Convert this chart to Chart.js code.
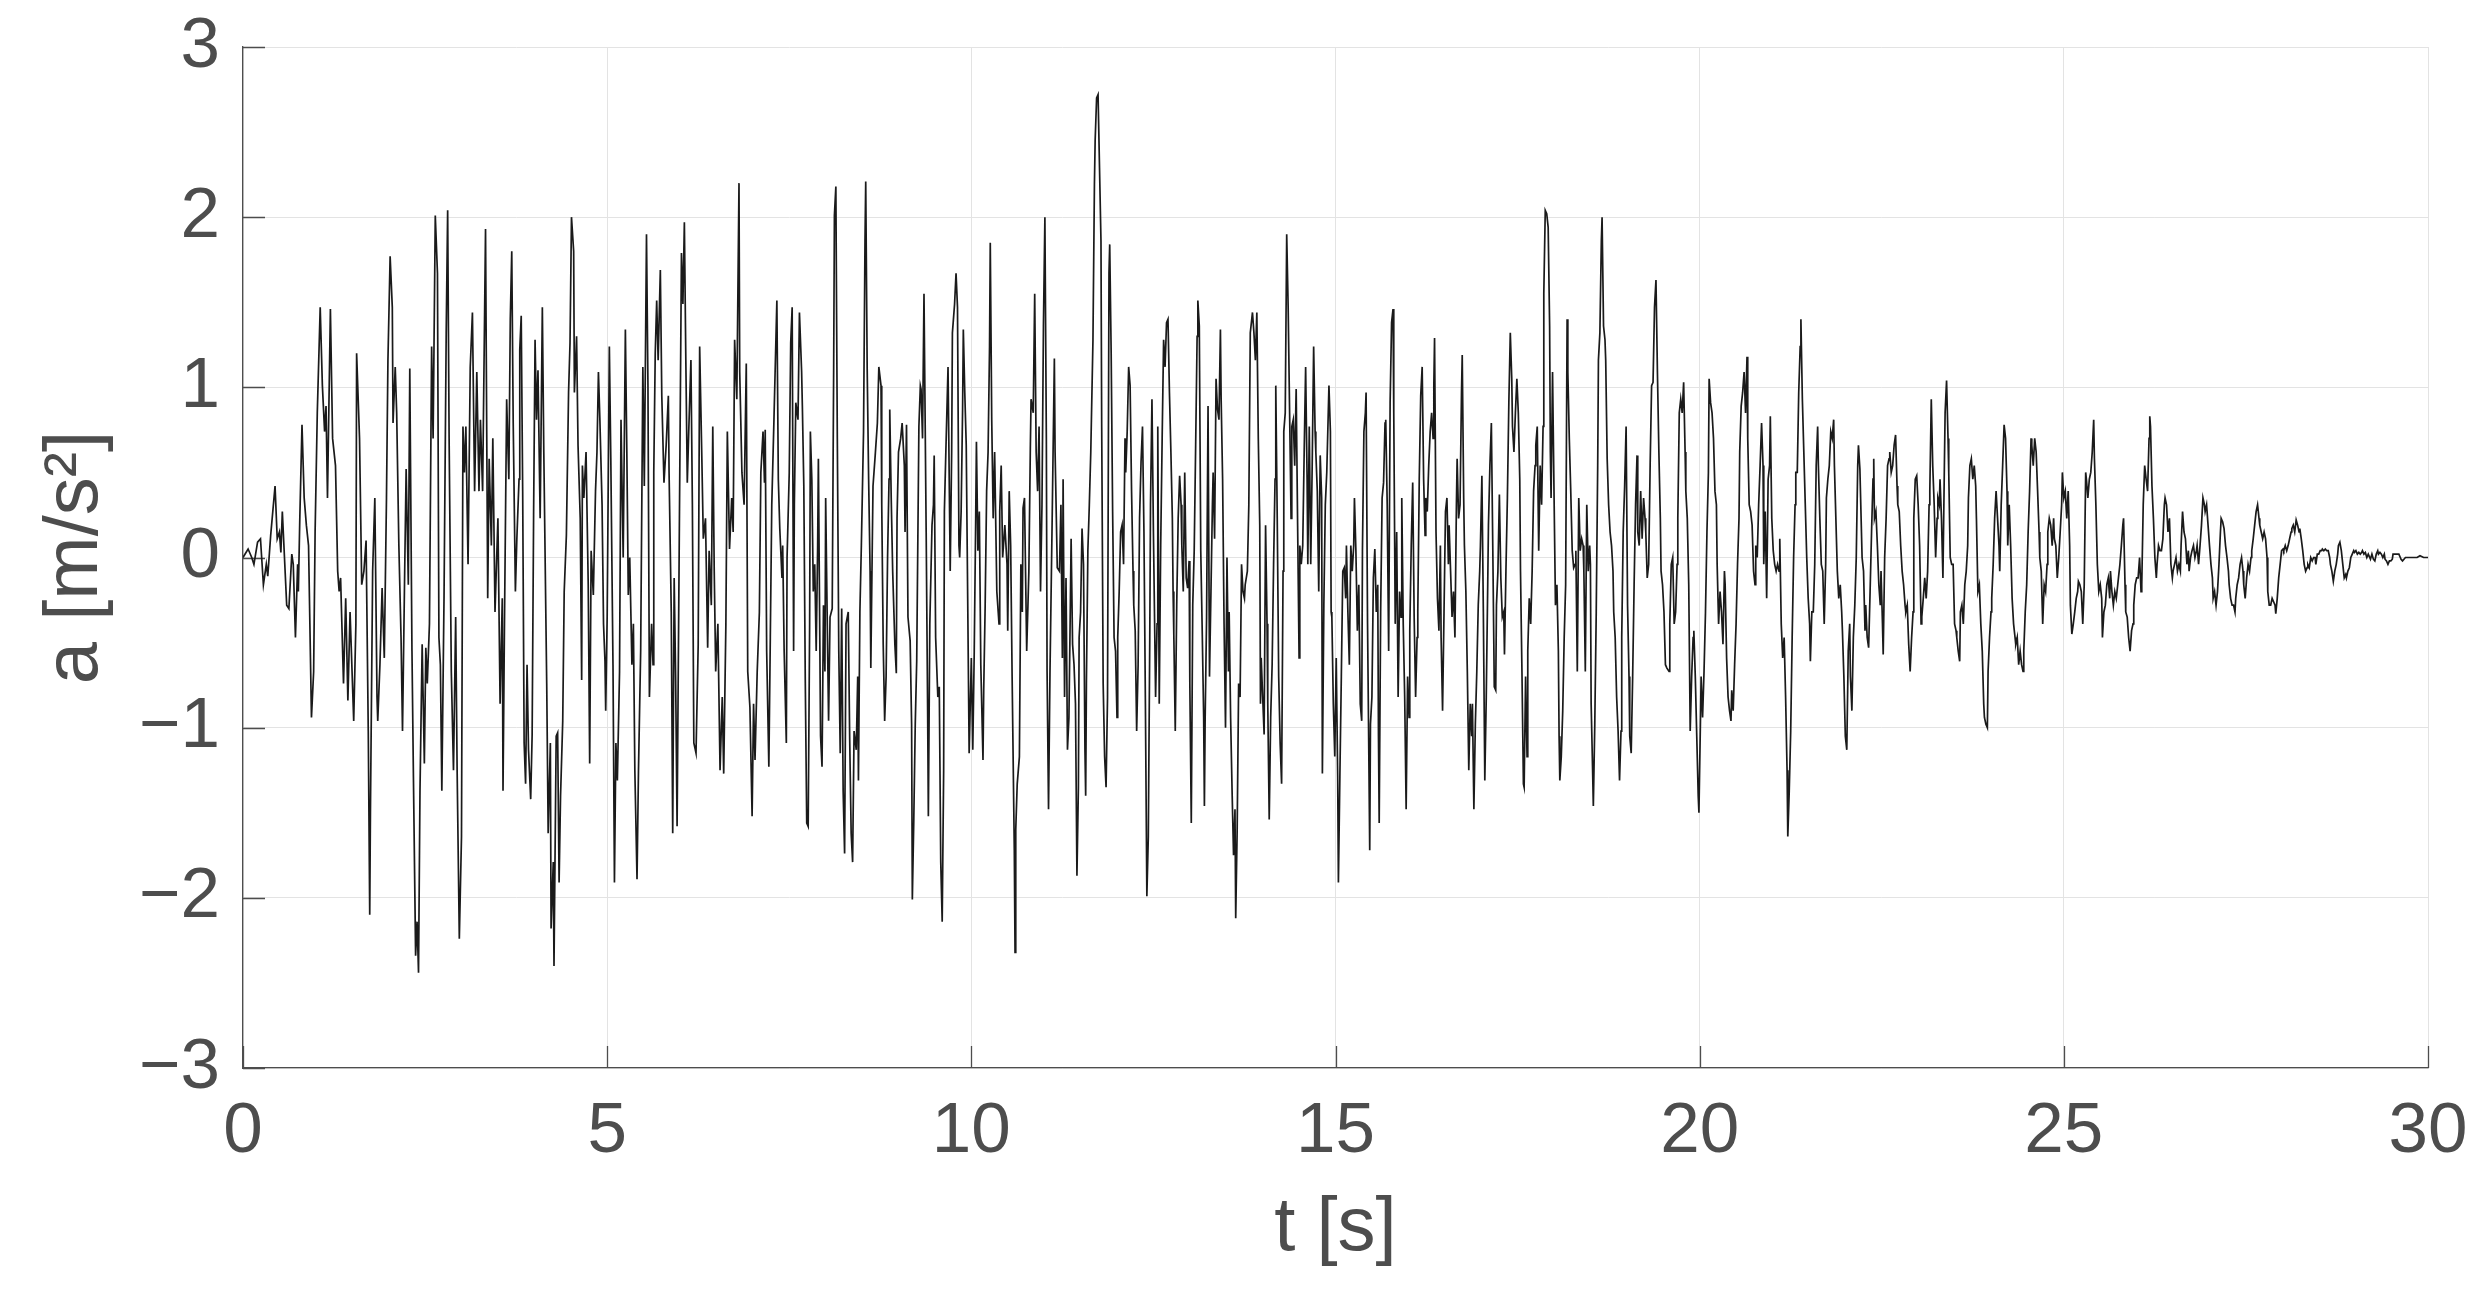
<!DOCTYPE html>
<html>
<head>
<meta charset="utf-8">
<script src="https://cdn.jsdelivr.net/npm/chart.js@4.4.1/dist/chart.umd.min.js"></script>
<style>
  html, body { margin: 0; padding: 0; background: #fff; }
  #wrap { width: 2488px; height: 1294px; position: relative; }
</style>
</head>
<body>
<div id="wrap"><canvas id="accChart"></canvas></div>
<script>
// tick values on both axes
const xTicks = [0, 5, 10, 15, 20, 25, 30];
const yTicks = [-3, -2, -1, 0, 1, 2, 3];

// accelerogram, [t (s), a (m/s2)], one array per stretch of time
const acc0to4 = [
  [0,0],[0.07,0.05],[0.12,0],[0.15,-0.04],[0.20,0.09],[0.24,0.11],[0.28,-0.16],[0.32,-0.04],[0.34,-0.11],[0.38,0.13],
  [0.44,0.42],[0.47,0.11],[0.50,0.15],[0.52,0.03],[0.54,0.27],[0.60,-0.28],[0.63,-0.30],[0.67,0.02],[0.69,-0.04],[0.72,-0.47],
  [0.75,-0.04],[0.76,-0.20],[0.78,0.23],[0.81,0.78],[0.84,0.35],[0.87,0.19],[0.90,0.07],[0.94,-0.94],[0.97,-0.67],[0.99,0.15],
  [1.02,0.85],[1.06,1.47],[1.09,1.01],[1.12,0.74],[1.14,0.89],[1.16,0.35],[1.20,1.46],[1.23,0.70],[1.27,0.54],[1.30,-0.08],
  [1.32,-0.20],[1.34,-0.12],[1.38,-0.74],[1.41,-0.24],[1.44,-0.84],[1.47,-0.32],[1.52,-0.96],[1.55,-0.39],[1.56,1.20],[1.60,0.70],
  [1.63,-0.16],[1.66,-0.08],[1.69,0.10],[1.72,-1.02],[1.74,-2.10],[1.75,-1.48],[1.78,-0.08],[1.81,0.35],[1.84,-0.82],[1.85,-0.96],
  [1.88,-0.63],[1.91,-0.18],[1.94,-0.59],[1.97,0.35],[1.99,1.16],[2.02,1.77],[2.05,1.47],[2.06,0.79],[2.09,1.12],[2.11,0.85],
  [2.14,0.07],[2.17,-0.47],[2.19,-1.02],[2.22,-0.08],[2.24,0.52],[2.27,-0.16],[2.29,1.11],[2.32,-0.55],[2.34,-1.29],[2.37,-2.34],
  [2.39,-2.14],[2.41,-2.44],[2.43,-1.37],[2.46,-0.51],[2.49,-1.21],[2.51,-0.53],[2.53,-0.74],[2.56,-0.39],[2.59,1.24],[2.61,0.70],
  [2.64,2.01],[2.67,1.67],[2.69,-0.47],[2.71,-0.63],[2.73,-1.37],[2.76,-0.24],[2.79,1.32],[2.81,2.04],[2.83,0.70],[2.86,-0.67],
  [2.89,-1.25],[2.92,-0.35],[2.94,-1.25],[2.97,-2.24],[3.00,-1.64],[3.02,0.77],[3.04,0.50],[3.06,0.77],[3.09,-0.04],[3.12,1.12],
  [3.15,1.44],[3.18,0.39],[3.21,1.09],[3.24,0.39],[3.26,0.81],[3.29,0.39],[3.33,1.93],[3.36,-0.24],[3.38,0.58],[3.41,0.07],
  [3.43,0.70],[3.46,-0.32],[3.50,0.23],[3.53,-0.86],[3.56,-0.24],[3.57,-1.37],[3.59,-0.39],[3.62,0.93],[3.65,0.46]
];
const acc4to7 = [
  [3.67,1.40],[3.69,1.80],[3.71,0.79],[3.74,-0.20],[3.76,0.11],[3.79,0.46],[3.80,1.22],[3.82,1.42],[3.84,0.39],[3.86,-1.09],
  [3.88,-1.33],[3.90,-0.63],[3.92,-1.13],[3.95,-1.42],[3.97,-1.04],[3.99,0.25],[4.01,1.28],[4.03,0.81],[4.05,1.10],[4.08,0.23],
  [4.11,1.47],[4.13,0.62],[4.17,-0.74],[4.19,-1.62],[4.22,-1.09],[4.23,-2.18],[4.26,-1.79],[4.27,-2.40],[4.30,-1.05],[4.32,-1.03],
  [4.34,-1.91],[4.36,-1.40],[4.39,-0.96],[4.41,-0.20],[4.44,0.13],[4.47,0.97],[4.49,1.26],[4.51,2.00],[4.54,1.80],[4.55,0.97],
  [4.58,1.30],[4.60,0.66],[4.63,0.23],[4.65,-0.72],[4.66,0.54],[4.68,0.35],[4.71,0.62],[4.74,-0.16],[4.76,-1.21],[4.78,0.04],
  [4.81,-0.22],[4.84,0.39],[4.86,0.62],[4.88,1.09],[4.90,0.81],[4.93,0.31],[4.95,-0.39],[4.97,-0.61],[4.98,-0.90],[5.00,-0.35],
  [5.03,1.24],[5.05,0.58],[5.08,-0.63],[5.10,-1.91],[5.12,-1.09],[5.14,-1.31],[5.17,-0.67],[5.19,0.81],[5.22,0],[5.25,1.34],
  [5.27,0.62],[5.29,-0.22],[5.31,0],[5.34,-0.63],[5.36,-0.39],[5.38,-1.25],[5.41,-1.89],[5.43,-1.25],[5.46,-0.55],[5.49,1.12],
  [5.51,0.42],[5.54,1.90],[5.56,1.01],[5.58,-0.82],[5.61,-0.39],[5.63,-0.63],[5.64,0.50],[5.66,1.20],[5.68,1.51],[5.70,1.16],
  [5.73,1.69],[5.75,0.95],[5.78,0.44],[5.81,0.66],[5.84,0.95],[5.85,0.50],[5.88,-0.32],[5.90,-1.62],[5.92,-0.12],[5.94,-0.70],
  [5.96,-1.58],[5.99,0.11],[6.02,1.79],[6.04,1.49],[6.06,1.97],[6.08,1.16],[6.10,0.44],[6.12,0.74],[6.15,1.16],[6.17,0.31],
  [6.19,-1.09],[6.22,-1.15],[6.25,-0.51],[6.27,1.24],[6.30,0.58],[6.32,0.11],[6.35,0.23],[6.38,-0.53],[6.40,0.04],[6.43,-0.28],
  [6.45,0.77],[6.47,-0.08],[6.49,-0.67],[6.52,-0.39],[6.55,-1.25],[6.58,-0.82],[6.60,-1.27],[6.63,-0.39],[6.65,0.74],[6.68,0.05],
  [6.71,0.35],[6.73,0.15],[6.75,1.28],[6.78,0.93],[6.81,2.20],[6.82,1.09],[6.85,0.50],[6.88,0.31],[6.91,1.14],[6.93,-0.67],
  [6.96,-0.88],[6.99,-1.52],[7.01,-0.86],[7.03,-1.19],[7.06,-0.67],[7.09,-0.32],[7.11,0.50],[7.14,0.74],[7.16,0.44],[7.17,0.75],
  [7.19,-0.55],[7.22,-1.23],[7.24,-0.47],[7.26,0.31],[7.29,0.81],[7.33,1.51],[7.35,0.46]
];
const acc7to11 = [
  [7.37,0.17],[7.40,-0.12],[7.41,0.07],[7.43,-0.55],[7.46,-1.09],[7.47,0],[7.50,0.50],[7.52,1.26],[7.54,1.47],[7.56,-0.55],
  [7.57,0.31],[7.59,0.91],[7.62,0.81],[7.64,1.44],[7.67,1.09],[7.68,0.89],[7.70,0.42],[7.72,-0.72],[7.74,-1.56],[7.76,-1.58],
  [7.78,-0.39],[7.79,0.74],[7.81,0.46],[7.83,-0.20],[7.85,-0.04],[7.87,-0.55],[7.89,0.07],[7.90,0.58],[7.93,-1.05],[7.95,-1.23],
  [7.97,-0.28],[7.99,-0.67],[8.00,0.35],[8.02,-0.32],[8.04,-0.96],[8.06,-0.35],[8.09,-0.30],[8.11,1.12],[8.12,2.01],[8.14,2.18],
  [8.16,0.70],[8.18,-0.55],[8.20,-1.15],[8.22,-0.30],[8.24,-1.37],[8.26,-1.74],[8.28,-0.39],[8.31,-0.32],[8.33,-1.07],[8.35,-1.62],
  [8.37,-1.79],[8.39,-1.02],[8.42,-1.13],[8.44,-0.70],[8.45,-1.31],[8.47,-0.32],[8.49,0.07],[8.52,0.74],[8.54,1.86],[8.55,2.21],
  [8.57,1.11],[8.59,0.46],[8.61,-0.08],[8.62,-0.65],[8.64,0.07],[8.65,0.42],[8.68,0.60],[8.71,0.79],[8.73,1.12],[8.76,1.01],
  [8.77,0.31],[8.79,-0.51],[8.81,-0.96],[8.83,-0.70],[8.85,0],[8.87,0.46],[8.88,0.87],[8.90,0.35],[8.92,-0.08],[8.95,-0.51],
  [8.97,-0.68],[8.98,0.23],[9.00,0.62],[9.03,0.70],[9.05,0.79],[9.08,0.54],[9.09,0.15],[9.11,0.78],[9.13,-0.35],[9.16,-0.49],
  [9.18,-0.98],[9.19,-2.01],[9.21,-1.54],[9.23,-0.98],[9.25,-0.61],[9.28,0.77],[9.30,1.01],[9.31,0.99],[9.33,0.70],[9.35,1.55],
  [9.38,0.15],[9.40,-0.90],[9.41,-1.52],[9.43,-0.39],[9.46,0.19],[9.48,0.31],[9.49,0.60],[9.51,-0.47],[9.54,-0.82],[9.56,-0.76],
  [9.58,-1.79],[9.60,-2.14],[9.62,-1.25],[9.63,0.27],[9.65,0.62],[9.68,1.12],[9.71,-0.08],[9.73,0.62],[9.74,1.32],[9.77,1.49],
  [9.79,1.67],[9.81,1.47],[9.83,0.07],[9.84,0],[9.86,0.27],[9.88,0.87],[9.89,1.34],[9.91,0.97],[9.93,0.66],[9.95,-0.24],
  [9.97,-1.15],[10.00,-0.59],[10.02,-1.13],[10.04,-0.55],[10.06,0.23],[10.07,0.68],[10.09,0.04],[10.11,0.27],[10.13,-0.63],[10.16,-1.19],
  [10.17,-0.78],[10.19,-0.28],[10.21,0.39],[10.23,0.62],[10.25,1.24],[10.26,1.85],[10.28,0.81],[10.30,0.23],[10.32,0.62],[10.35,-0.20],
  [10.38,-0.39],[10.39,0.27],[10.41,0.54],[10.43,0],[10.46,0.19],[10.49,-0.04],[10.50,-0.43],[10.52,0.39],[10.54,0.07],[10.56,-0.70],
  [10.59,-1.72],[10.60,-2.32],[10.61,-1.60],[10.63,-1.33],[10.66,-1.17],[10.68,-0.04],[10.70,-0.32],[10.71,0.29],[10.73,0.35],[10.76,-0.55],
  [10.79,-0.08],[10.81,0.64],[10.82,0.93],[10.85,0.85],[10.87,1.55],[10.89,0.62],[10.91,0.39],[10.93,0.77],[10.95,-0.20],[10.97,0.31],
  [10.99,1.36],[11.01,2.00],[11.03,0.70],[11.04,-0.67],[11.06,-1.48]
];
const acc11to15 = [
  [11.08,-0.67],[11.11,0.23],[11.14,1.17],[11.15,0.62],[11.18,-0.06],[11.21,-0.08],[11.23,0.31],[11.25,-0.59],[11.26,0.46],[11.28,-0.82],
  [11.30,-0.12],[11.32,-1.13],[11.34,-0.94],[11.36,-0.26],[11.37,0.11],[11.39,-0.51],[11.41,-0.63],[11.43,-0.86],[11.45,-1.87],[11.47,-1.35],
  [11.48,-0.47],[11.50,-0.32],[11.52,0.17],[11.54,-0.04],[11.56,-1.13],[11.57,-1.40],[11.58,-0.74],[11.60,0.04],[11.62,0.31],[11.64,0.62],
  [11.67,1.28],[11.69,2.19],[11.70,2.45],[11.72,2.70],[11.74,2.72],[11.76,2.29],[11.78,1.86],[11.79,0.77],[11.81,-0.74],[11.83,-1.17],
  [11.85,-1.35],[11.87,-0.82],[11.89,1.67],[11.90,1.84],[11.92,1.20],[11.94,0.27],[11.96,-0.47],[11.98,-0.55],[12.00,-0.94],[12.01,-0.47],
  [12.03,-0.20],[12.05,0.15],[12.07,0.19],[12.09,-0.04],[12.11,0.70],[12.12,0.50],[12.14,0.74],[12.16,1.12],[12.18,1.01],[12.20,0.39],
  [12.22,-0.08],[12.23,-0.28],[12.25,-0.43],[12.27,-1.02],[12.29,-0.63],[12.31,0.23],[12.33,0.56],[12.35,0.77],[12.37,0.15],[12.39,-0.86],
  [12.41,-1.99],[12.43,-1.64],[12.45,-0.47],[12.46,0.31],[12.48,0.93],[12.50,0.15],[12.53,-0.82],[12.55,-0.39],[12.56,0.77],[12.58,-0.86],
  [12.60,0.07],[12.62,0.70],[12.64,1.28],[12.66,1.12],[12.68,1.38],[12.70,1.40],[12.72,0.97],[12.74,0.62],[12.76,0.23],[12.77,-0.20],
  [12.78,-0.45],[12.80,-1.02],[12.82,-0.28],[12.84,0.23],[12.86,0.48],[12.88,0.31],[12.89,0.07],[12.91,-0.20],[12.93,0.50],[12.95,-0.12],
  [12.97,-0.18],[12.99,-0.02],[13.00,-0.74],[13.02,-1.56],[13.04,-0.28],[13.06,0.04],[13.08,0.66],[13.10,1.30],[13.11,1.51],[13.13,1.36],
  [13.15,0.04],[13.17,-0.43],[13.19,-0.94],[13.20,-1.46],[13.21,-0.96],[13.23,-0.35],[13.25,0.89],[13.27,-0.70],[13.29,-0.20],[13.31,0.31],
  [13.32,0.50],[13.34,0.11],[13.36,1.05],[13.38,0.87],[13.40,0.81],[13.42,1.34],[13.43,0.93],[13.45,0.46],[13.47,-0.39],[13.49,-1.00],
  [13.51,0],[13.53,-0.67],[13.54,-0.32],[13.56,-0.94],[13.58,-1.37],[13.60,-1.75],[13.62,-1.48],[13.63,-2.12],[13.65,-1.60],[13.67,-0.74],
  [13.69,-0.82],[13.71,-0.04],[13.73,-0.20],[13.75,-0.24],[13.76,-0.16],[13.79,-0.08],[13.81,0.31],[13.83,1.32],[13.85,1.40],[13.86,1.44],
  [13.88,1.32],[13.90,1.16],[13.92,1.44],[13.94,0.70],[13.96,0.19],[13.97,-0.86],[13.98,-0.59],[14.00,-0.82],[14.02,-1.04],[14.04,0.19],
  [14.06,-0.39],[14.07,-0.86],[14.09,-1.54],[14.11,-0.94],[14.13,-0.63],[14.15,-0.04],[14.17,0.46],[14.18,1.01],[14.20,0.23],[14.22,-0.70],
  [14.24,-1.09],[14.26,-1.33],[14.28,-0.08],[14.29,0.74],[14.31,0.85],[14.33,1.90],[14.35,1.47],[14.37,0.85],[14.39,0.23],[14.40,0.77],
  [14.42,0.81],[14.44,0.54],[14.46,0.99],[14.48,0.19],[14.50,-0.59],[14.51,0.07],[14.53,-0.04],[14.55,0.07],[14.57,0.62],[14.59,1.12],
  [14.61,0.46],[14.62,-0.04],[14.64,0.77],[14.66,-0.04],[14.68,0.54],[14.70,1.24],[14.72,0.74],[14.73,0.62],[14.75,0.39],[14.77,-0.20]
];
const acc15to18 = [
  [14.79,0.60],[14.81,0.35],[14.82,-1.27],[14.84,-0.28],[14.86,0.31],[14.88,0.50],[14.91,1.01],[14.93,0.74],[14.94,-0.32],[14.95,-0.35],
  [14.97,-0.86],[14.99,-1.17],[15.01,-0.59],[15.03,-1.29],[15.04,-1.91],[15.06,-1.29],[15.08,-0.70],[15.10,-0.08],[15.12,-0.06],[15.14,-0.24],
  [15.15,0.07],[15.17,-0.32],[15.19,-0.63],[15.21,0.07],[15.23,-0.08],[15.25,0.07],[15.26,0.35],[15.28,0.04],[15.30,-0.43],[15.32,-0.16],
  [15.34,-0.86],[15.36,-0.96],[15.37,0.04],[15.39,0.74],[15.41,0.85],[15.42,0.97],[15.44,-0.39],[15.46,-1.27],[15.47,-1.72],[15.48,-0.98],
  [15.50,-0.82],[15.52,-0.12],[15.54,0.05],[15.56,-0.32],[15.58,-0.16],[15.59,-1.05],[15.60,-1.56],[15.62,-0.32],[15.64,0.35],[15.66,0.44],
  [15.68,0.79],[15.69,0.81],[15.71,0.31],[15.73,-0.55],[15.75,0.91],[15.77,1.38],[15.79,1.46],[15.80,0.85],[15.82,-0.39],[15.84,0.15],
  [15.86,-0.82],[15.88,-0.20],[15.90,-0.35],[15.91,0.35],[15.93,-0.39],[15.95,-0.82],[15.97,-1.48],[15.99,-0.70],[16.01,-0.94],[16.02,-0.43],
  [16.04,0.07],[16.06,0.44],[16.08,-0.35],[16.10,-0.82],[16.12,-0.47],[16.13,-0.32],[16.15,0.46],[16.17,0.95],[16.19,1.12],[16.21,0.46],
  [16.23,0.13],[16.24,0.35],[16.26,0.27],[16.28,0.54],[16.30,0.74],[16.32,0.85],[16.34,0.70],[16.35,1.01],[16.36,1.29],[16.38,0.15],
  [16.40,-0.24],[16.42,-0.43],[16.44,0.07],[16.45,-0.47],[16.47,-0.90],[16.49,-0.32],[16.51,0.27],[16.53,0.35],[16.55,-0.04],[16.56,0.19],
  [16.58,-0.08],[16.60,-0.35],[16.62,-0.20],[16.64,-0.47],[16.66,0.31],[16.67,0.58],[16.69,0.23],[16.71,0.31],[16.73,0.97],[16.74,1.19],
  [16.76,0.35],[16.77,0.07],[16.79,-0.20],[16.81,-0.67],[16.83,-1.25],[16.85,-0.86],[16.87,-1.05],[16.88,-0.86],[16.90,-1.48],[16.92,-0.98],
  [16.94,-0.67],[16.96,-0.28],[16.98,-0.08],[16.99,0.07],[17.01,0.48],[17.03,-0.32],[17.05,-1.31],[17.07,-0.82],[17.09,-0.16],[17.10,0.19],
  [17.12,0.54],[17.14,0.79],[17.16,0.04],[17.18,-0.76],[17.20,-0.78],[17.21,-0.28],[17.23,-0.08],[17.25,0.37],[17.27,-0.12],[17.29,-0.35],
  [17.31,-0.32],[17.32,-0.57],[17.34,-0.08],[17.36,0.35],[17.38,0.91],[17.40,1.32],[17.42,1.05],[17.43,0.77],[17.45,0.62],[17.47,0.85],
  [17.49,1.05],[17.51,0.85],[17.53,0.46],[17.54,-0.08],[17.56,-0.67],[17.58,-1.33],[17.59,-1.35],[17.61,-0.70],[17.63,-1.17],[17.64,-0.55],
  [17.66,-0.24],[17.68,-0.39],[17.70,-0.08],[17.72,0.39],[17.74,0.54],[17.75,0.66],[17.77,0.77],[17.79,0.04],[17.81,0.54],[17.83,0.31],
  [17.85,0.77],[17.86,1.55],[17.88,2.04],[17.90,2.02],[17.92,1.94],[17.94,1.36],[17.95,0.62],[17.96,0.35],[17.98,1.09],[18.00,0.39],
  [18.02,-0.28],[18.04,-0.16],[18.06,-0.55],[18.07,-1.05],[18.08,-1.31],[18.10,-1.17],[18.12,-0.90],[18.14,-0.47],[18.16,-0.16],[18.18,1.40],
  [18.19,1.09],[18.21,0.70],[18.23,0.39],[18.25,0.04],[18.27,-0.06],[18.29,-0.04],[18.30,0.04],[18.32,-0.67],[18.34,0.35],[18.36,0.04],
  [18.38,0.11],[18.40,0.07],[18.41,-0.08],[18.43,-0.67],[18.45,0.31],[18.47,-0.08],[18.49,0.07]
];
const acc18to22 = [
  [18.50,-0.04],[18.51,-0.86],[18.53,-1.25],[18.54,-1.46],[18.56,-0.98],[18.58,-0.32],[18.60,0.54],[18.61,1.16],[18.63,1.32],[18.65,1.86],
  [18.66,2.00],[18.68,1.36],[18.70,1.28],[18.71,1.16],[18.73,0.58],[18.75,0.31],[18.77,0.15],[18.79,0.07],[18.81,-0.08],[18.82,-0.32],
  [18.84,-0.47],[18.86,-0.82],[18.88,-1.02],[18.90,-1.31],[18.92,-1.02],[18.93,-0.47],[18.95,0.15],[18.97,0.42],[18.99,0.77],[19.01,-0.28],
  [19.03,-0.70],[19.04,-1.05],[19.06,-1.15],[19.08,-0.70],[19.10,-0.16],[19.12,0.31],[19.14,0.60],[19.15,0.15],[19.17,0.07],[19.19,0.39],
  [19.21,0.11],[19.23,0.35],[19.25,0.23],[19.26,0.15],[19.28,-0.12],[19.30,-0.04],[19.32,0.54],[19.34,1.01],[19.36,1.03],[19.38,1.47],
  [19.40,1.63],[19.42,1.09],[19.44,0.62],[19.46,0.23],[19.47,-0.08],[19.49,-0.16],[19.51,-0.32],[19.53,-0.63],[19.55,-0.65],[19.58,-0.67],
  [19.59,-0.39],[19.61,-0.04],[19.63,0],[19.65,-0.39],[19.67,-0.32],[19.69,-0.04],[19.70,0.23],[19.72,0.85],[19.74,0.93],[19.76,0.85],
  [19.78,1.03],[19.80,0.62],[19.81,0.39],[19.83,0.23],[19.85,-0.16],[19.87,-1.02],[19.89,-0.70],[19.91,-0.47],[19.92,-0.43],[19.94,-0.70],
  [19.96,-1.05],[19.98,-1.40],[19.99,-1.50],[20.01,-0.98],[20.02,-0.70],[20.04,-0.94],[20.06,-0.67],[20.08,-0.32],[20.10,0.15],[20.12,0.50],
  [20.13,1.05],[20.15,0.91],[20.17,0.85],[20.19,0.70],[20.21,0.39],[20.23,0.31],[20.24,-0.04],[20.26,-0.39],[20.28,-0.20],[20.30,-0.32],
  [20.32,-0.51],[20.34,-0.08],[20.35,-0.16],[20.37,-0.59],[20.39,-0.82],[20.41,-0.90],[20.43,-0.96],[20.44,-0.78],[20.46,-0.90],[20.48,-0.63],
  [20.50,-0.39],[20.52,-0.04],[20.54,0.23],[20.55,0.62],[20.57,0.89],[20.59,0.97],[20.61,1.09],[20.63,0.85],[20.65,1.18],[20.66,0.70],
  [20.68,0.31],[20.70,0.27],[20.72,0.19],[20.74,-0.08],[20.76,-0.16],[20.77,0.07],[20.79,0],[20.81,0.31],[20.83,0.54],[20.85,0.79],
  [20.87,0.54],[20.88,-0.04],[20.90,0.27],[20.92,-0.24],[20.94,0.46],[20.96,0.54],[20.97,0.83],[20.99,0.23],[21.01,0.04],[21.03,-0.04],
  [21.05,-0.08],[21.07,-0.04],[21.09,-0.08],[21.10,0.11],[21.12,-0.39],[21.14,-0.59],[21.16,-0.47],[21.18,-0.82],[21.20,-1.25],[21.21,-1.64],
  [21.23,-1.37],[21.25,-1.02],[21.27,-0.47],[21.29,0],[21.31,0.31],[21.32,0.50],[21.34,0.50],[21.36,0.97],[21.38,1.24],[21.39,1.40],
  [21.41,0.93],[21.43,0.62],[21.45,0.31],[21.47,0],[21.49,-0.24],[21.51,-0.39],[21.52,-0.61],[21.54,-0.32],[21.56,-0.32],[21.58,-0.04],
  [21.60,0.54],[21.62,0.77],[21.63,0.54],[21.65,0.23],[21.67,-0.04],[21.69,-0.08],[21.71,-0.39],[21.73,-0.04],[21.74,0.35],[21.76,0.46],
  [21.78,0.54],[21.80,0.74],[21.82,0.70],[21.84,0.81],[21.85,0.54],[21.87,0.23],[21.89,-0.08],[21.91,-0.24],[21.93,-0.16],[21.95,-0.32],
  [21.96,-0.43],[21.98,-0.70],[22.00,-1.05],[22.02,-1.13],[22.04,-0.55],[22.06,-0.39],[22.07,-0.70],[22.09,-0.90],[22.11,-0.47],[22.13,-0.28],
  [22.15,0],[22.17,0.54],[22.18,0.66]
];
const acc22to26 = [
  [22.20,0.52],[22.23,0],[22.25,-0.08],[22.27,-0.43],[22.28,-0.28],[22.30,-0.47],[22.32,-0.53],[22.34,-0.20],[22.36,0.15],[22.38,0.46],
  [22.39,0.58],[22.40,0.23],[22.42,0.27],[22.44,0.07],[22.46,-0.16],[22.48,-0.28],[22.49,-0.08],[22.51,-0.39],[22.52,-0.57],[22.54,0],
  [22.56,0.23],[22.58,0.54],[22.60,0.58],[22.61,0.62],[22.63,0.50],[22.65,0.54],[22.67,0.66],[22.69,0.72],[22.71,0.42],[22.72,0.31],
  [22.74,0.27],[22.76,0.07],[22.78,-0.08],[22.80,-0.16],[22.82,-0.28],[22.83,-0.32],[22.85,-0.28],[22.87,-0.51],[22.89,-0.67],[22.91,-0.47],
  [22.93,-0.32],[22.94,0.23],[22.96,0.46],[22.98,0.48],[23.00,0.31],[23.02,0.07],[23.04,-0.39],[23.05,-0.35],[23.07,-0.24],[23.09,-0.12],
  [23.11,-0.24],[23.13,-0.08],[23.15,0.31],[23.16,0.39],[23.18,0.93],[23.20,0.54],[23.22,0.31],[23.24,0],[23.26,0.23],[23.27,0.35],
  [23.29,0.31],[23.30,0.46],[23.32,0.23],[23.34,-0.12],[23.36,0.54],[23.37,0.85],[23.39,1.04],[23.41,0.70],[23.42,0.50],[23.44,0],
  [23.46,-0.04],[23.48,-0.04],[23.50,-0.39],[23.52,-0.43],[23.53,-0.47],[23.55,-0.55],[23.57,-0.61],[23.58,-0.32],[23.60,-0.28],[23.62,-0.39],
  [23.64,-0.16],[23.66,-0.08],[23.68,0.07],[23.69,0.35],[23.71,0.54],[23.73,0.58],[23.75,0.46],[23.77,0.54],[23.79,0.42],[23.80,0.23],
  [23.82,-0.20],[23.84,-0.16],[23.86,-0.39],[23.88,-0.55],[23.90,-0.86],[23.91,-0.94],[23.93,-0.98],[23.95,-1.00],[23.96,-0.67],[23.98,-0.47],
  [24.00,-0.32],[24.01,-0.24],[24.03,-0.04],[24.05,0.23],[24.07,0.39],[24.09,0.23],[24.11,0.07],[24.12,-0.08],[24.14,0.31],[24.16,0.54],
  [24.18,0.78],[24.20,0.70],[24.22,0.39],[24.23,0.07],[24.25,0.31],[24.27,0.07],[24.29,-0.24],[24.31,-0.39],[24.33,-0.47],[24.34,-0.51],
  [24.36,-0.47],[24.38,-0.63],[24.40,-0.55],[24.42,-0.63],[24.44,-0.67],[24.45,-0.55],[24.47,-0.32],[24.49,-0.16],[24.51,0.15],[24.53,0.39],
  [24.55,0.70],[24.56,0.66],[24.58,0.54],[24.60,0.70],[24.62,0.62],[24.64,0.39],[24.66,0.15],[24.67,0],[24.69,-0.08],[24.71,-0.39],
  [24.73,-0.16],[24.75,-0.20],[24.77,-0.04],[24.78,0.15],[24.80,0.23],[24.82,0.19],[24.84,0.07],[24.86,0.23],[24.87,0.11],[24.89,0.07],
  [24.91,-0.12],[24.93,0],[24.95,0.15],[24.97,0.31],[24.98,0.50],[25.00,0.35],[25.02,0.39],[25.04,0.23],[25.06,0.39],[25.08,0.07],
  [25.09,-0.28],[25.11,-0.45],[25.13,-0.39],[25.15,-0.32],[25.17,-0.24],[25.19,-0.20],[25.20,-0.14],[25.22,-0.16],[25.24,-0.20],[25.26,-0.39],
  [25.28,-0.16],[25.30,0.50],[25.31,0.46],[25.33,0.35],[25.35,0.46],[25.37,0.50],[25.39,0.62],[25.41,0.81],[25.42,0.58],[25.44,0.31],
  [25.46,-0.04],[25.48,-0.20],[25.50,-0.16],[25.52,-0.24],[25.53,-0.47],[25.55,-0.32],[25.57,-0.28],[25.59,-0.16],[25.61,-0.12],[25.63,-0.24],
  [25.64,-0.08],[25.66,-0.20],[25.68,-0.28],[25.70,-0.20],[25.72,-0.24],[25.74,-0.16],[25.75,-0.12],[25.77,-0.04],[25.79,0.07],[25.81,0.19],
  [25.82,0.23],[25.84,-0.16],[25.85,-0.32],[25.87,-0.35],[25.89,-0.47]
];
const acc26to30 = [
  [25.91,-0.55],[25.93,-0.43],[25.95,-0.39],[25.96,-0.28],[25.98,-0.16],[26.00,-0.12],[26.02,-0.12],[26.04,0],[26.06,-0.20],[26.07,-0.16],
  [26.09,0.31],[26.11,0.54],[26.13,0.46],[26.15,0.39],[26.17,0.70],[26.18,0.83],[26.19,0.77],[26.21,0.42],[26.23,0.23],[26.25,0],
  [26.27,-0.12],[26.28,-0.04],[26.30,0.07],[26.32,0.04],[26.34,0.04],[26.36,0.11],[26.38,0.31],[26.39,0.35],[26.41,0.31],[26.43,0.15],
  [26.45,0.23],[26.47,-0.04],[26.49,-0.12],[26.50,-0.08],[26.52,-0.04],[26.54,0],[26.56,-0.08],[26.58,-0.04],[26.60,-0.08],[26.61,0.07],
  [26.63,0.27],[26.65,0.15],[26.67,0.11],[26.69,-0.04],[26.71,0.04],[26.72,-0.08],[26.74,0],[26.76,0.04],[26.78,0.07],[26.80,0],
  [26.82,0.04],[26.83,0.07],[26.85,-0.04],[26.87,0.07],[26.89,0.19],[26.91,0.35],[26.93,0.31],[26.94,0.27],[26.96,0.31],[26.98,0.19],
  [27.00,0.07],[27.02,-0.04],[27.04,-0.12],[27.05,-0.24],[27.07,-0.20],[27.09,-0.28],[27.11,-0.20],[27.13,-0.04],[27.15,0.15],[27.16,0.23],
  [27.18,0.21],[27.20,0.17],[27.22,0.07],[27.24,0],[27.26,-0.08],[27.27,-0.16],[27.29,-0.24],[27.31,-0.28],[27.33,-0.28],[27.35,-0.32],
  [27.36,-0.24],[27.38,-0.16],[27.40,-0.12],[27.42,-0.04],[27.44,0],[27.46,-0.08],[27.47,-0.16],[27.49,-0.24],[27.51,-0.12],[27.53,-0.04],
  [27.55,-0.08],[27.57,0],[27.58,0.04],[27.60,0.11],[27.62,0.19],[27.64,0.27],[27.66,0.31],[27.68,0.23],[27.69,0.19],[27.71,0.15],
  [27.73,0.11],[27.75,0.15],[27.77,0.11],[27.79,0],[27.80,-0.20],[27.82,-0.28],[27.84,-0.28],[27.86,-0.24],[27.88,-0.26],[27.90,-0.28],
  [27.91,-0.33],[27.93,-0.24],[27.95,-0.12],[27.97,-0.04],[27.99,0.04],[28.01,0.05],[28.02,0.04],[28.04,0.07],[28.06,0.04],[28.08,0.07],
  [28.10,0.11],[28.12,0.15],[28.13,0.17],[28.15,0.19],[28.17,0.15],[28.19,0.22],[28.21,0.19],[28.23,0.15],[28.24,0.17],[28.26,0.11],
  [28.28,0.04],[28.30,-0.04],[28.32,-0.08],[28.34,-0.06],[28.35,-0.04],[28.37,-0.06],[28.39,0],[28.41,-0.02],[28.43,0],[28.45,0],
  [28.46,-0.04],[28.48,0.02],[28.50,0.02],[28.52,0.04],[28.54,0.04],[28.55,0.05],[28.57,0.04],[28.59,0.05],[28.61,0.04],[28.63,0.04],
  [28.65,0],[28.66,-0.04],[28.68,-0.08],[28.70,-0.14],[28.72,-0.08],[28.74,-0.04],[28.76,0.02],[28.77,0.07],[28.79,0.09],[28.81,0.04],
  [28.83,-0.04],[28.85,-0.12],[28.87,-0.10],[28.88,-0.12],[28.90,-0.08],[28.92,-0.06],[28.94,0],[28.96,0.02],[28.98,0.04],[28.99,0.03],
  [29.01,0.04],[29.03,0.02],[29.05,0.03],[29.07,0.02],[29.09,0.03],[29.10,0.04],[29.12,0.02],[29.14,0.03],[29.16,0],[29.18,0.02],
  [29.20,0],[29.21,-0.01],[29.23,0.02],[29.25,-0.01],[29.27,-0.02],[29.29,0.02],[29.31,0.04],[29.32,0.02],[29.34,0.03],[29.36,0.02],
  [29.38,0],[29.40,0.02],[29.41,-0.01],[29.43,-0.02],[29.45,-0.04],[29.47,-0.02],[29.49,-0.02],[29.51,-0.01],[29.52,0.02],[29.54,0.02],
  [29.56,0.02],[29.58,0.02],[29.60,0.02],[29.62,0],[29.63,-0.01],[29.65,-0.02],[29.67,-0.01],[29.69,0],[29.75,0],[29.80,0],
  [29.85,0],[29.89,0.01],[29.94,0],[30.00,0]
];

const trace = [].concat(acc0to4, acc4to7, acc7to11, acc11to15, acc15to18, acc18to22, acc22to26, acc26to30);

const textColor = '#4d4d4d';
const axisColor = '#4d4d4d';
const gridColor = '#e3e3e3';
const fontFamily = "'Liberation Sans', Arial, Helvetica, sans-serif";

// MATLAB-style ticks pointing into the plot
const inwardTicks = {
    id: 'inwardTicks',
    beforeDatasetsDraw(chart) {
        const { ctx, chartArea, scales } = chart;
        ctx.save();
        ctx.strokeStyle = axisColor;
        ctx.lineWidth = 1.3;
        ctx.beginPath();
        xTicks.forEach(v => {
            const px = Math.round(scales.x.getPixelForValue(v)) + 0.5;
            ctx.moveTo(px, chartArea.bottom);
            ctx.lineTo(px, chartArea.bottom - 22);
        });
        yTicks.forEach(v => {
            const py = Math.round(scales.y.getPixelForValue(v)) + 0.5;
            ctx.moveTo(chartArea.left, py);
            ctx.lineTo(chartArea.left + 22, py);
        });
        ctx.stroke();
        ctx.restore();
    }
};

const fmtTick = v => (v < 0 ? '\u2212' + Math.abs(v) : String(v));

new Chart(document.getElementById('accChart').getContext('2d'), {
    type: 'line',
    data: {
        datasets: [{
            data: trace.map(p => ({ x: p[0], y: p[1] })),
            borderColor: '#1a1a1a',
            borderWidth: 1.7,
            pointRadius: 0,
            tension: 0,
            fill: false
        }]
    },
    options: {
        responsive: true,
        maintainAspectRatio: false,
        animation: false,
        events: [],
        layout: { padding: { left: 0, top: 47, right: 60, bottom: 0 } },
        plugins: { legend: { display: false }, tooltip: { enabled: false } },
        scales: {
            x: {
                type: 'linear',
                min: 0,
                max: 30,
                afterBuildTicks: s => { s.ticks = xTicks.map(v => ({ value: v })); },
                afterFit: s => {
                    s.height = 226;
                    s.paddingLeft = 0;
                    s.paddingRight = 0;
                },
                grid: { color: gridColor, lineWidth: 1, drawTicks: false },
                border: { display: true, color: axisColor, width: 1.3 },
                ticks: {
                    color: textColor,
                    font: { family: fontFamily, size: 71 },
                    padding: 22,
                    maxRotation: 0,
                    callback: fmtTick
                },
                title: {
                    display: true,
                    text: 't [s]',
                    color: textColor,
                    font: { family: fontFamily, size: 76 },
                    padding: { top: 0, bottom: 19 }
                }
            },
            y: {
                type: 'linear',
                min: -3,
                max: 3,
                afterBuildTicks: s => { s.ticks = yTicks.map(v => ({ value: v })); },
                afterFit: s => {
                    s.width = 243;
                    s.paddingTop = 0;
                    s.paddingBottom = 0;
                },
                grid: { color: gridColor, lineWidth: 1, drawTicks: false },
                border: { display: true, color: axisColor, width: 1.3 },
                ticks: {
                    color: textColor,
                    font: { family: fontFamily, size: 71 },
                    padding: 23,
                    callback: fmtTick
                },
                title: {
                    display: true,
                    text: 'a [m/s\u00B2]',
                    color: textColor,
                    font: { family: fontFamily, size: 76 },
                    padding: { top: 30, bottom: 0 }
                }
            }
        }
    },
    plugins: [inwardTicks]
});
</script>
</body>
</html>
